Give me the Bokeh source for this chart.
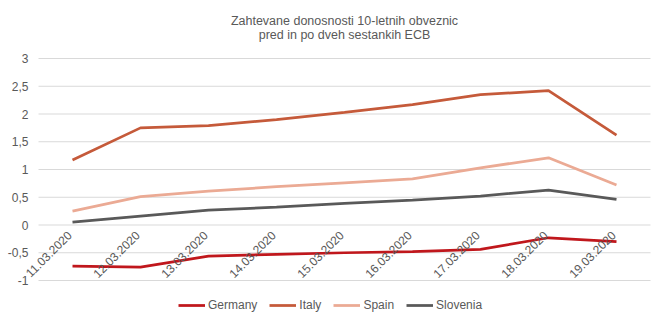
import math
from bokeh.plotting import figure
from bokeh.models import Legend, LegendItem, ColumnDataSource, Range1d
from bokeh.core.properties import value
from bokeh.embed import file_html
from bokeh.resources import INLINE

dates = ["11.03.2020", "12.03.2020", "13.03.2020", "14.03.2020", "15.03.2020",
         "16.03.2020", "17.03.2020", "18.03.2020", "19.03.2020"]
germany = [-0.74, -0.76, -0.56, -0.53, -0.50, -0.48, -0.44, -0.23, -0.30]
italy = [1.17, 1.75, 1.79, 1.90, 2.03, 2.17, 2.35, 2.42, 1.62]
spain = [0.25, 0.51, 0.61, 0.69, 0.76, 0.83, 1.03, 1.21, 0.72]
slovenia = [0.05, 0.16, 0.27, 0.32, 0.39, 0.45, 0.52, 0.63, 0.46]
series_names = ["Germany", "Italy", "Spain", "Slovenia"]
colors = ["#C0171C", "#C55A3A", "#EBAA94", "#595959"]
y_ticks = [-1, -0.5, 0, 0.5, 1, 1.5, 2, 2.5, 3]
y_tick_labels = ["-1", "-0,5", "0", "0,5", "1", "1,5", "2", "2,5", "3"]
title_lines = ["Zahtevane donosnosti 10-letnih obveznic", "pred in po dveh sestankih ECB"]

FONT = "Liberation Sans"
TXT = "#595959"

# geometry: category bands 68px wide, plot area x 38..650, values -1..3 on rows 280..58
W, H = 663, 321
band = 68.0
left_px = 38.0
px_per_unit = 222 / 4.0
y_top = 3 + 58 / px_per_unit
y_bot = -1 - 41 / px_per_unit
x_start = -0.5 - left_px / band
x_end = x_start + W / band

idx = list(range(len(dates)))  # category positions

p = figure(width=W, height=H, frame_width=W, frame_height=H,
           x_range=Range1d(x_start, x_end), y_range=Range1d(y_bot, y_top),
           output_backend="svg", toolbar_location=None,
           x_axis_location=None, y_axis_location=None,
           min_border=0)
p.outline_line_color = None
p.background_fill_color = "white"
p.border_fill_color = "white"
p.xgrid.visible = False
p.ygrid.visible = False

# horizontal gridlines across the category bands
n = len(dates)
p.segment(x0=[-0.5] * len(y_ticks), x1=[n - 0.5] * len(y_ticks), y0=y_ticks, y1=y_ticks,
          line_color="#D9D9D9", line_width=1)

renderers = []
for name, vals, col in zip(series_names, [germany, italy, spain, slovenia], colors):
    r = p.line(idx, vals, line_color=col, line_width=2.75)
    renderers.append((name, r))

# value labels
p.text(x=[-0.5] * len(y_ticks), y=y_ticks, text=y_tick_labels, x_offset=-10,
       text_align="right", text_baseline="middle",
       text_font=value(FONT), text_font_size="12px", text_color=TXT)

# category labels hanging from the y=0 line
p.text(x=idx, y=[0] * n, text=dates, angle=math.pi / 4,
       text_align="right", text_baseline="middle", x_offset=-3, y_offset=8,
       text_font=value(FONT), text_font_size="12px", text_color=TXT)

# two-line title, centred over the categories
p.text(x=[(n - 1) / 2] * 2,
       y=[y_top - 20 / px_per_unit, y_top - 34.5 / px_per_unit],
       text=title_lines, text_align="center", text_baseline="alphabetic",
       text_font=value(FONT), text_font_size="12.5px", text_color=TXT)

legend = Legend(items=[LegendItem(label=nm, renderers=[r]) for nm, r in renderers],
                orientation="horizontal", location=(178, 9),
                label_text_font=FONT, label_text_font_size="12px", label_text_color=TXT,
                glyph_width=27, glyph_height=14, label_height=14, label_standoff=3, spacing=12,
                border_line_color=None, background_fill_alpha=0, padding=0, margin=0)
p.add_layout(legend, "center")

open("out.html", "w").write(file_html(p, INLINE))
